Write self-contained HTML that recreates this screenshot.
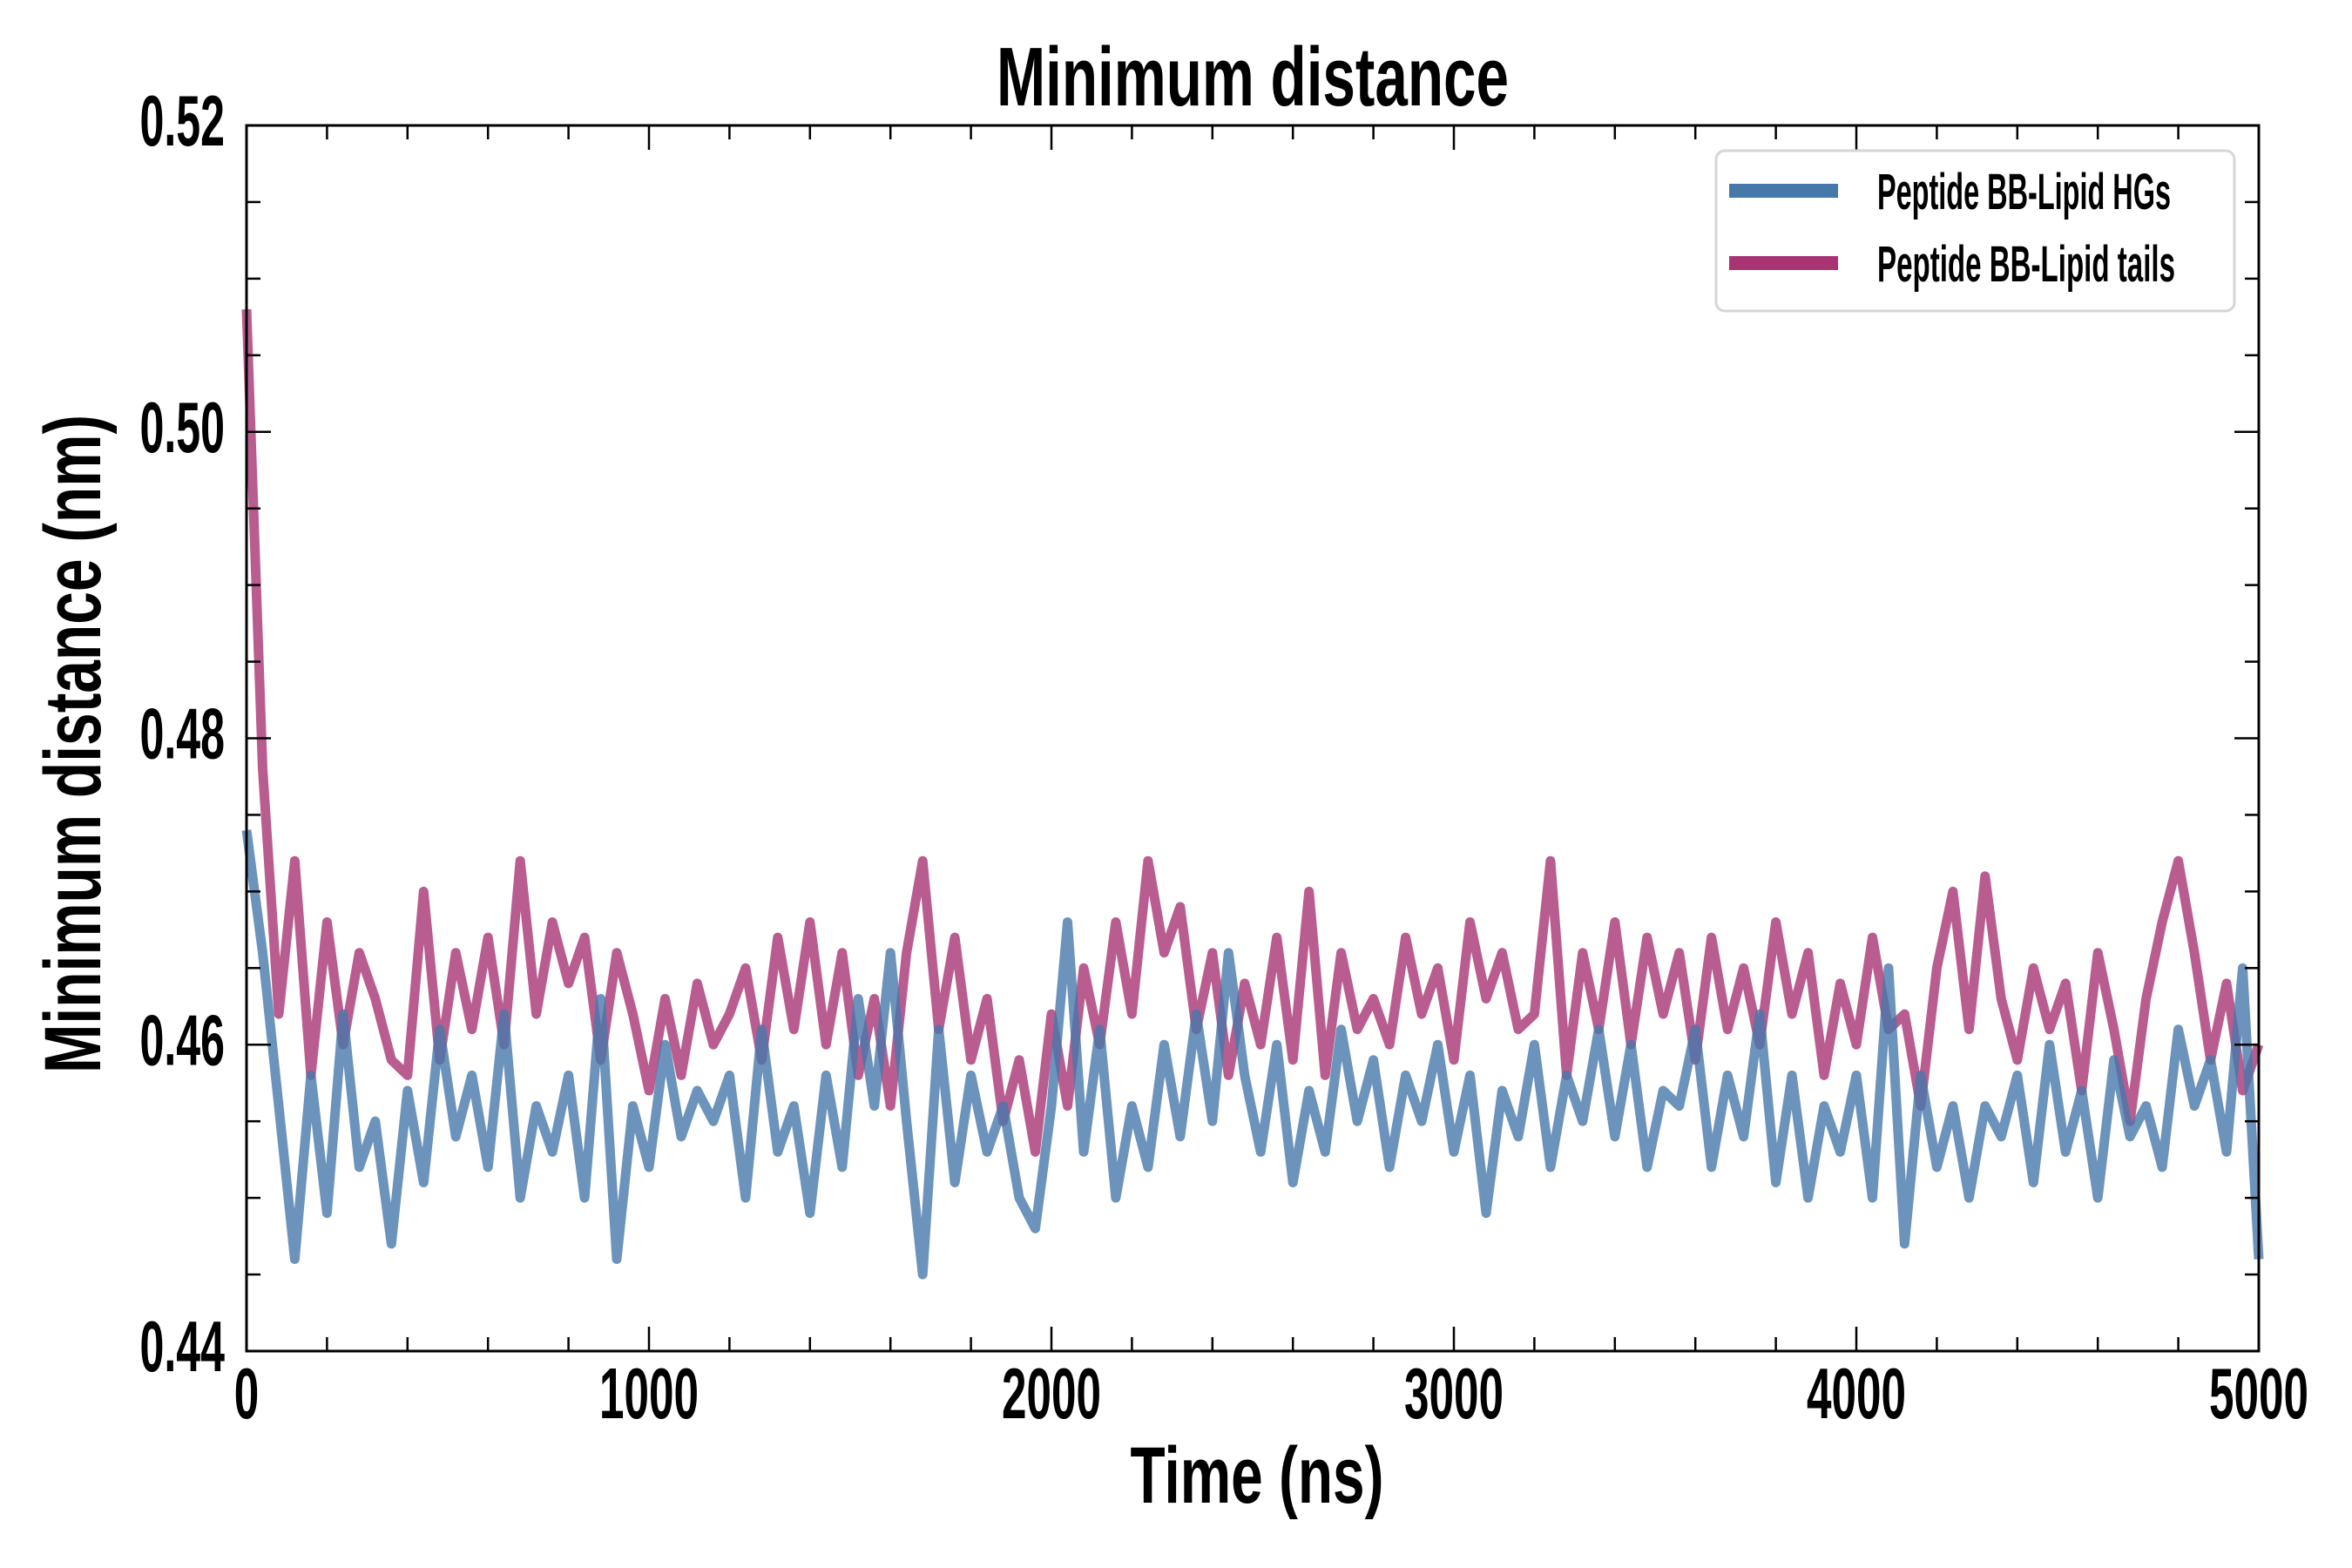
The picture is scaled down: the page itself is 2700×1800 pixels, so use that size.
<!DOCTYPE html>
<html><head><meta charset="utf-8"><style>
html,body{margin:0;padding:0;background:#fff;}
svg{display:block;}
text{font-family:"Liberation Sans Narrow","Liberation Sans",sans-serif;font-weight:bold;fill:#000;}
</style></head><body>
<svg id="chart" width="2700" height="1800" viewBox="0 0 2700 1800" xmlns="http://www.w3.org/2000/svg">
<rect width="2700" height="1800" fill="#fff"/>
<g id="series"></g>
<g id="axes"></g>
<text x="1438" y="121" text-anchor="middle" font-size="96" textLength="588" lengthAdjust="spacingAndGlyphs">Minimum distance</text>
<text x="1443" y="1725" text-anchor="middle" font-size="92" textLength="291" lengthAdjust="spacingAndGlyphs">Time (ns)</text>
<text transform="translate(115,854) rotate(-90)" text-anchor="middle" font-size="92" textLength="756" lengthAdjust="spacingAndGlyphs">Minimum distance (nm)</text>
<g>
<rect x="1970" y="173" width="595" height="184" rx="10" fill="#fff" stroke="#d6d6d6" stroke-width="3"/>
<line x1="1985" y1="219" x2="2110" y2="219" stroke="#4778aa" stroke-width="16"/>
<text x="2155" y="240" font-size="58" textLength="337" lengthAdjust="spacingAndGlyphs">Peptide BB-Lipid HGs</text>
<line x1="1985" y1="302" x2="2110" y2="302" stroke="#a83474" stroke-width="16"/>
<text x="2155" y="323" font-size="58" textLength="342" lengthAdjust="spacingAndGlyphs">Peptide BB-Lipid tails</text>
</g>
</svg>
<script>
const timeStep = 40;
const tailsValues = [
0.508,0.478,0.462,0.472,0.458,0.468,0.460,0.466,0.463,0.459,
0.458,0.470,0.459,0.466,0.461,0.467,0.460,0.472,0.462,0.468,
0.464,0.467,0.459,0.466,0.462,0.457,0.463,0.458,0.464,0.460,
0.462,0.465,0.459,0.467,0.461,0.468,0.460,0.466,0.458,0.463,
0.456,0.466,0.472,0.461,0.467,0.459,0.463,0.455,0.459,0.453,
0.462,0.456,0.465,0.460,0.468,0.462,0.472,0.466,0.469,0.461,
0.466,0.458,0.464,0.460,0.467,0.459,0.470,0.458,0.466,0.461,
0.463,0.460,0.467,0.462,0.465,0.459,0.468,0.463,0.466,0.461,
0.462,0.472,0.458,0.466,0.461,0.468,0.460,0.467,0.462,0.466,
0.459,0.467,0.461,0.465,0.460,0.468,0.462,0.466,0.458,0.464,
0.460,0.467,0.461,0.462,0.456,0.465,0.470,0.461,0.471,0.463,
0.459,0.465,0.461,0.464,0.457,0.466,0.461,0.455,0.463,0.468,
0.472,0.466,0.459,0.464,0.457,0.460];
const hgsValues = [
0.474,0.466,0.456,0.446,0.458,0.449,0.462,0.452,0.455,0.447,
0.457,0.451,0.461,0.454,0.458,0.452,0.462,0.450,0.456,0.453,
0.458,0.450,0.463,0.446,0.456,0.452,0.460,0.454,0.457,0.455,
0.458,0.450,0.461,0.453,0.456,0.449,0.458,0.452,0.463,0.456,
0.466,0.455,0.445,0.461,0.451,0.458,0.453,0.456,0.450,0.448,
0.456,0.468,0.453,0.461,0.450,0.456,0.452,0.460,0.454,0.462,
0.455,0.466,0.458,0.453,0.460,0.451,0.457,0.453,0.461,0.455,
0.459,0.452,0.458,0.455,0.460,0.453,0.458,0.449,0.457,0.454,
0.460,0.452,0.458,0.455,0.461,0.454,0.460,0.452,0.457,0.456,
0.461,0.452,0.458,0.454,0.462,0.451,0.458,0.450,0.456,0.453,
0.458,0.450,0.465,0.447,0.458,0.452,0.456,0.450,0.456,0.454,
0.458,0.451,0.460,0.453,0.457,0.450,0.459,0.454,0.456,0.452,
0.461,0.456,0.459,0.453,0.465,0.446];
const xTicks = [0,1000,2000,3000,4000,5000];
const xTickLabels = ["0","1000","2000","3000","4000","5000"];
const yTicks = [0.44,0.46,0.48,0.50,0.52];
const yTickLabels = ["0.44","0.46","0.48","0.50","0.52"];

const L=283,R=2593,T=144,B=1551;
const xMin=0,xMax=5000,yMin=0.44,yMax=0.52;
const NS="http://www.w3.org/2000/svg";
function xs(v){return L+(v-xMin)/(xMax-xMin)*(R-L);}
function ys(v){return B-(v-yMin)/(yMax-yMin)*(B-T);}
const seriesG=document.getElementById('series');
const axesG=document.getElementById('axes');
function mk(tag,attrs,parent){const e=document.createElementNS(NS,tag);for(const k in attrs)e.setAttribute(k,attrs[k]);parent.appendChild(e);return e;}

function drawSeries(vals,color,name){
  let d='';
  vals.forEach((v,i)=>{d+=(i?'L':'M')+xs(i*timeStep).toFixed(1)+','+ys(v).toFixed(1);});
  const p=mk('path',{d:d,fill:'none',stroke:color,'stroke-width':11,'stroke-linejoin':'round','stroke-opacity':0.8},seriesG);
  
  
}
drawSeries(tailsValues,'#a83474','series-lipid-tails');
drawSeries(hgsValues,'#4778aa','series-lipid-hgs');

const frame=mk('rect',{x:L,y:T,width:R-L,height:B-T,fill:'none',stroke:'#000','stroke-width':3},axesG);



for(let v=0; v<=5000; v+=200){
  const major = v%1000===0, len = major?28:16, x=xs(v);
  const t1=mk('line',{x1:x,y1:B,x2:x,y2:B-len,stroke:'#000','stroke-width':2.5},axesG);
  
  
  const t2=mk('line',{x1:x,y1:T,x2:x,y2:T+len,stroke:'#000','stroke-width':2.5},axesG);
  
  
}
for(let k=0;k<=16;k++){
  const v=0.44+k*0.005, major=k%4===0, len=major?28:16, y=ys(v);
  const t1=mk('line',{x1:L,y1:y,x2:L+len,y2:y,stroke:'#000','stroke-width':2.5},axesG);
  
  
  const t2=mk('line',{x1:R,y1:y,x2:R-len,y2:y,stroke:'#000','stroke-width':2.5},axesG);
  
  
}
function labelWidth(s){let w=0;for(const c of s)w+=(c==='.')?12:28.5;return w;}
xTicks.forEach((v,i)=>{
  const s=xTickLabels[i];
  const t=mk('text',{x:xs(v),y:1628,'text-anchor':'middle','font-size':83,textLength:labelWidth(s),lengthAdjust:'spacingAndGlyphs'},axesG);
  t.textContent=s;
  
  
});
yTicks.forEach((v,i)=>{
  const s=yTickLabels[i];
  const w=labelWidth(s);
  const t=mk('text',{x:258-w,y:ys(v)+23,'font-size':83,textLength:w,lengthAdjust:'spacingAndGlyphs'},axesG);
  t.textContent=s;
  
  
});
</script>
</body></html>
